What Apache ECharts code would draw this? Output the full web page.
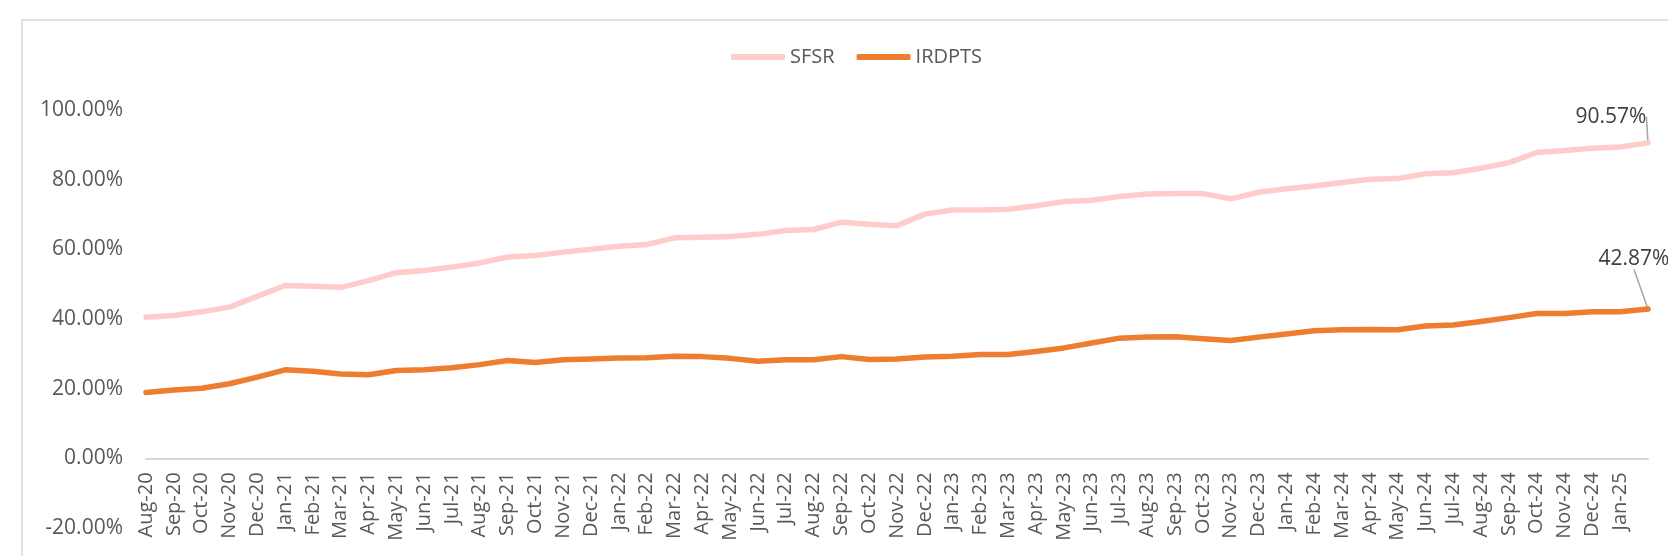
<!DOCTYPE html>
<html>
<head>
<meta charset="utf-8">
<script src="https://cdn.jsdelivr.net/npm/echarts@6/dist/echarts.min.js"></script>
<style>
  html, body { margin: 0; padding: 0; background: #ffffff; }
  #chart { width: 1668px; height: 556px; }
</style>
</head>
<body>
<div id="chart"></div>
<script>
// Category labels (the 55th value has no label in the source)
const categories = [
  'Aug-20','Sep-20','Oct-20','Nov-20','Dec-20',
  'Jan-21','Feb-21','Mar-21','Apr-21','May-21','Jun-21','Jul-21','Aug-21','Sep-21','Oct-21','Nov-21','Dec-21',
  'Jan-22','Feb-22','Mar-22','Apr-22','May-22','Jun-22','Jul-22','Aug-22','Sep-22','Oct-22','Nov-22','Dec-22',
  'Jan-23','Feb-23','Mar-23','Apr-23','May-23','Jun-23','Jul-23','Aug-23','Sep-23','Oct-23','Nov-23','Dec-23',
  'Jan-24','Feb-24','Mar-24','Apr-24','May-24','Jun-24','Jul-24','Aug-24','Sep-24','Oct-24','Nov-24','Dec-24',
  'Jan-25',''
];

// Series values (%)
const sfsr = [
  40.5, 41.0, 42.1, 43.4, 46.5,
  49.6, 49.4, 49.1, 51.0, 53.3, 53.9, 54.9, 56.1, 57.8, 58.2, 59.2, 60.0,
  60.9, 61.4, 63.3, 63.5, 63.7, 64.3, 65.4, 65.7, 67.8, 67.2, 66.8, 70.1,
  71.3, 71.3, 71.5, 72.5, 73.7, 74.1, 75.2, 75.9, 76.0, 76.0, 74.5, 76.4,
  77.4, 78.2, 79.2, 80.1, 80.3, 81.7, 82.0, 83.3, 84.9, 87.8, 88.4, 89.0,
  89.4, 90.57
];
const irdpts = [
  18.9, 19.6, 20.1, 21.4, 23.3,
  25.4, 25.0, 24.2, 24.0, 25.2, 25.4, 26.0, 26.9, 28.1, 27.5, 28.3, 28.5,
  28.8, 28.9, 29.3, 29.2, 28.7, 27.9, 28.3, 28.3, 29.2, 28.4, 28.5, 29.1,
  29.3, 29.8, 29.8, 30.7, 31.7, 33.1, 34.5, 34.8, 34.9, 34.3, 33.8, 34.8,
  35.7, 36.6, 36.9, 37.0, 36.9, 38.0, 38.3, 39.3, 40.4, 41.6, 41.6, 42.1,
  42.1, 42.87
];

const seriesNames = ['SFSR', 'IRDPTS'];
const seriesColors = ['#FFCCCC', '#ED7D31'];
const yTicks = { min: -20, max: 100, interval: 20 };

const FONT = 'Open Sans';
const TXT = '#595959';

// layout of the plot
const W = 1668, H = 556;
const plotTop = 110, plotBottom = 28, plotLeft = 146, plotRight = 20;
// pixel position of the zero line, derived from the value scale
const plotH = H - plotTop - plotBottom;
const zeroY = plotTop + plotH * (yTicks.max - 0) / (yTicks.max - yTicks.min);

function withEndLabel(values, color) {
  const last = values.length - 1;
  return values.map((v, i) => {
    if (i !== last) return v;
    return {
      value: v,
      symbol: 'circle',
      symbolSize: 5,
      itemStyle: { color: color },
      label: {
        show: true,
        position: 'top',
        distance: 5,
        formatter: p => p.value.toFixed(2) + '%',
        color: '#404040',
        fontFamily: FONT,
        fontSize: 21
      },
      labelLine: {
        show: true,
        lineStyle: { color: '#A6A6A6', width: 1.5 }
      }
    };
  });
}

const chart = echarts.init(document.getElementById('chart'), null, { renderer: 'canvas' });

chart.setOption({
  backgroundColor: '#ffffff',
  animation: false,
  textStyle: { fontFamily: FONT },
  graphic: [{
    type: 'rect',
    silent: true,
    shape: { x: 22, y: 20, width: 1700, height: 600 },
    style: { fill: 'none', stroke: '#D9D9D9', lineWidth: 1.5 }
  }],
  legend: {
    left: 726,
    top: 42,
    itemWidth: 54,
    itemHeight: 6,
    itemGap: 22,
    icon: 'roundRect',
    textStyle: { color: TXT, fontFamily: FONT, fontSize: 20 },
    data: seriesNames
  },
  grid: [
    { left: plotLeft, right: plotRight, top: plotTop, bottom: plotBottom, containLabel: false, outerBoundsMode: 'none' },
    { left: plotLeft, right: plotRight, top: plotTop, bottom: H - zeroY, containLabel: false, outerBoundsMode: 'none' }
  ],
  xAxis: [
    {
      gridIndex: 0,
      type: 'category',
      data: categories,
      boundaryGap: false,
      axisLine: { show: false },
      axisTick: { show: false },
      axisLabel: { show: false },
      splitLine: { show: false }
    },
    {
      gridIndex: 1,
      type: 'category',
      data: categories,
      boundaryGap: false,
      axisLine: { show: true, onZero: false, lineStyle: { color: '#D9D9D9', width: 2 } },
      axisTick: { show: false },
      axisLabel: {
        interval: 0,
        rotate: 90,
        margin: 14,
        color: TXT,
        fontFamily: FONT,
        fontSize: 20
      },
      splitLine: { show: false }
    }
  ],
  yAxis: [
    {
      gridIndex: 0,
      type: 'value',
      min: yTicks.min,
      max: yTicks.max,
      interval: yTicks.interval,
      axisLine: { show: false },
      axisTick: { show: false },
      splitLine: { show: false },
      axisLabel: {
        margin: 23,
        color: TXT,
        fontFamily: FONT,
        fontSize: 21,
        formatter: v => v.toFixed(2) + '%'
      }
    },
    {
      gridIndex: 1,
      type: 'value',
      min: 0,
      max: yTicks.max,
      show: false
    }
  ],
  series: [
    {
      name: seriesNames[0],
      type: 'line',
      xAxisIndex: 0,
      yAxisIndex: 0,
      data: withEndLabel(sfsr, seriesColors[0]),
      symbol: 'none',
      showSymbol: true,
      color: seriesColors[0],
      lineStyle: { width: 5.5, color: seriesColors[0], cap: 'round', join: 'round' },
      labelLayout: { dx: -37, dy: -8 },
      z: 2
    },
    {
      name: seriesNames[1],
      type: 'line',
      xAxisIndex: 0,
      yAxisIndex: 0,
      data: withEndLabel(irdpts, seriesColors[1]),
      symbol: 'none',
      showSymbol: true,
      color: seriesColors[1],
      lineStyle: { width: 5.5, color: seriesColors[1], cap: 'round', join: 'round' },
      labelLayout: { dx: -14, dy: -32 },
      z: 3
    }
  ]
});
</script>
</body>
</html>
